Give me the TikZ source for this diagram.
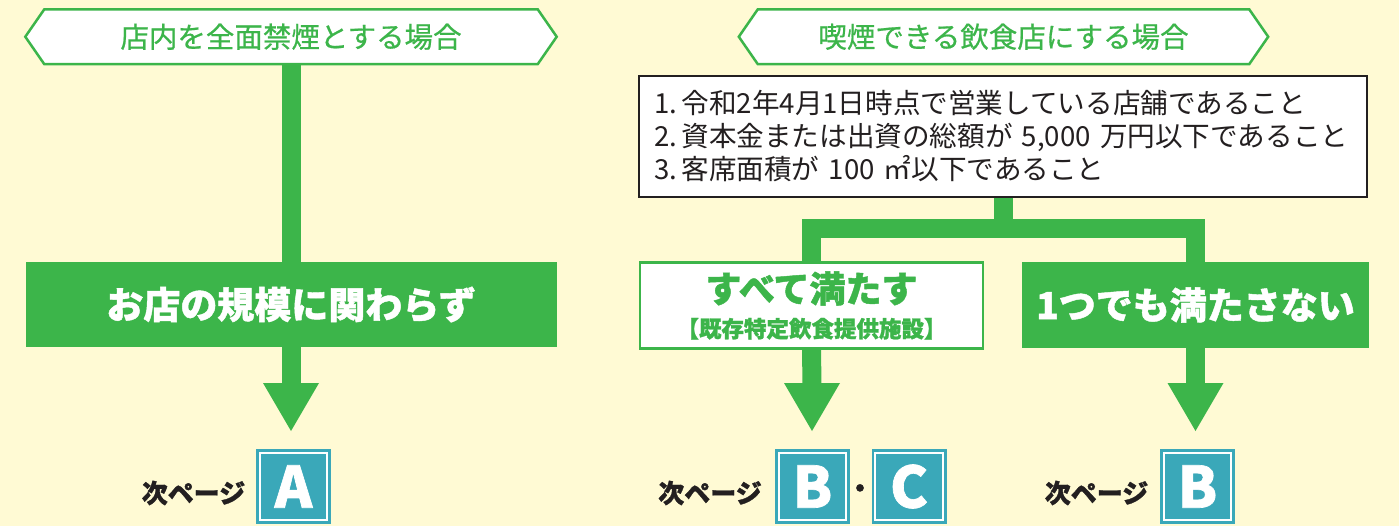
\documentclass[tikz,border=0pt]{standalone}
\usepackage{fontspec}
\newfontfamily\jp{Noto Sans CJK JP}[BoldFeatures={FakeBold=1.2}]
\newfontfamily\jpm{Noto Sans CJK JP}[FakeBold=0.6]
\usetikzlibrary{calc,backgrounds}
\definecolor{bgc}{RGB}{255,250,212}
\definecolor{gc}{RGB}{60,181,74}
\definecolor{tc}{RGB}{58,168,185}
\definecolor{ink}{RGB}{35,31,32}
\tikzset{
  hexn/.style={inner sep=0pt, minimum height=54.5pt, text=gc, font=\jpm\fontsize{28.5}{32}\selectfont},
  hexline/.style={draw=gc, line width=2.5pt, fill=white, line join=miter},
  gline/.style={draw=gc, line width=19pt},
  gbox/.style={fill=gc, inner sep=0pt, text=white, font=\jp\bfseries\fontsize{37}{40}\selectfont},
  wbox/.style={fill=white, draw=gc, line width=2.5pt, inner sep=0pt, text=gc, align=center},
  cbox/.style={fill=white, draw=ink, line width=2.5pt, inner xsep=15pt, inner ysep=0pt, align=left, text=ink, font=\jp\fontsize{27.6}{33}\selectfont},
  pbox/.style={fill=tc, minimum width=75pt, minimum height=75pt, inner sep=0pt, text=white, font=\jp\bfseries\fontsize{57}{60}\selectfont},
  nxt/.style={inner sep=0pt, text=ink, font=\jp\bfseries\fontsize{26}{28}\selectfont},
}
\newcommand{\headarrow}[1]{\fill[gc] (#1) -- ++(-28,-48) -- ++(56,0) -- cycle;}
\newcommand{\innerframe}[1]{\draw[white, line width=2pt] ([shift={(4pt,-4pt)}]#1.north west) rectangle ([shift={(-4pt,4pt)}]#1.south east);}
\begin{document}
\begin{tikzpicture}[x=1pt,y=-1pt]
\useasboundingbox (0,0) rectangle (1399,526);
% headers
\node[hexn, minimum width=531pt] (h1) at (291,36.75) {店内を全面禁煙とする場合};
\node[hexn, minimum width=529pt] (h2) at (1003.5,36.75) {喫煙できる飲食店にする場合};
\begin{scope}[on background layer]
\fill[bgc] (0,0) rectangle (1399,526);
\foreach \h in {h1,h2}{
\draw[hexline] (\h.west) -- ([xshift=19pt]\h.north west) -- ([xshift=-19pt]\h.north east) -- (\h.east) -- ([xshift=-19pt]\h.south east) -- ([xshift=19pt]\h.south west) -- cycle;
}
\end{scope}
% left column
\coordinate (tA) at (291,431);
\node[gbox, minimum width=531pt, minimum height=85pt] (b1) at (291,304.5) {お店の規模に関わらず};
\begin{scope}[on background layer]
\draw[gline] (h1.south) -- (b1.north);
\draw[gline] (b1.south) -- ([yshift=46pt]tA);
\end{scope}
\headarrow{tA}
\node[pbox] (pA) at (293.5,486.5) {A};
\innerframe{pA}
\node[nxt] (nA) at (193.5,493) {次ページ};
% right column
\node[cbox, minimum width=728pt, minimum height=121pt, text width=698pt] (cond) at (1003,136.5)
 {\mbox{1.\,令和2年4月1日時点で営業している店舗であること}\\
  \mbox{2.\,資本金または出資の総額が~5,000~万円以下であること}\\
  \mbox{3.\,客席面積が~100~㎡以下であること}};
\node[wbox, minimum width=343pt, minimum height=86pt, font=\jp\bfseries\fontsize{22.5}{35}\selectfont] (b2) at (811.5,305.5)
 {{\fontsize{36}{35}\selectfont すべて満たす}\\【既存特定飲食提供施設】};
\node[gbox, minimum width=347pt, minimum height=86pt] (b3) at (1195.5,305) {1つでも満たさない};
\coordinate (j) at (1003,229);
\coordinate (tB) at (812,431);
\coordinate (tB2) at (1195.5,431);
\begin{scope}[on background layer]
\draw[gline] (cond.south) -- (j);
\draw[gline, line join=miter] (b2.north) |- (j) -| (b3.north);
\draw[gline] (b2.south) -- ([yshift=46pt]tB);
\draw[gline] (b3.south) -- ([yshift=46pt]tB2);
\end{scope}
\headarrow{tB}
\headarrow{tB2}
\node[pbox] (pB) at (812.5,486.5) {B};
\innerframe{pB}
\node[pbox] (pC) at (909,486.5) {C};
\innerframe{pC}
\node[nxt] (dot) at (860,491) {・};
\node[nxt] (nB) at (710,493) {次ページ};
\node[pbox] (pB2) at (1197.5,486.5) {B};
\innerframe{pB2}
\node[nxt] (nB2) at (1096.5,493) {次ページ};
\end{tikzpicture}
\end{document}
